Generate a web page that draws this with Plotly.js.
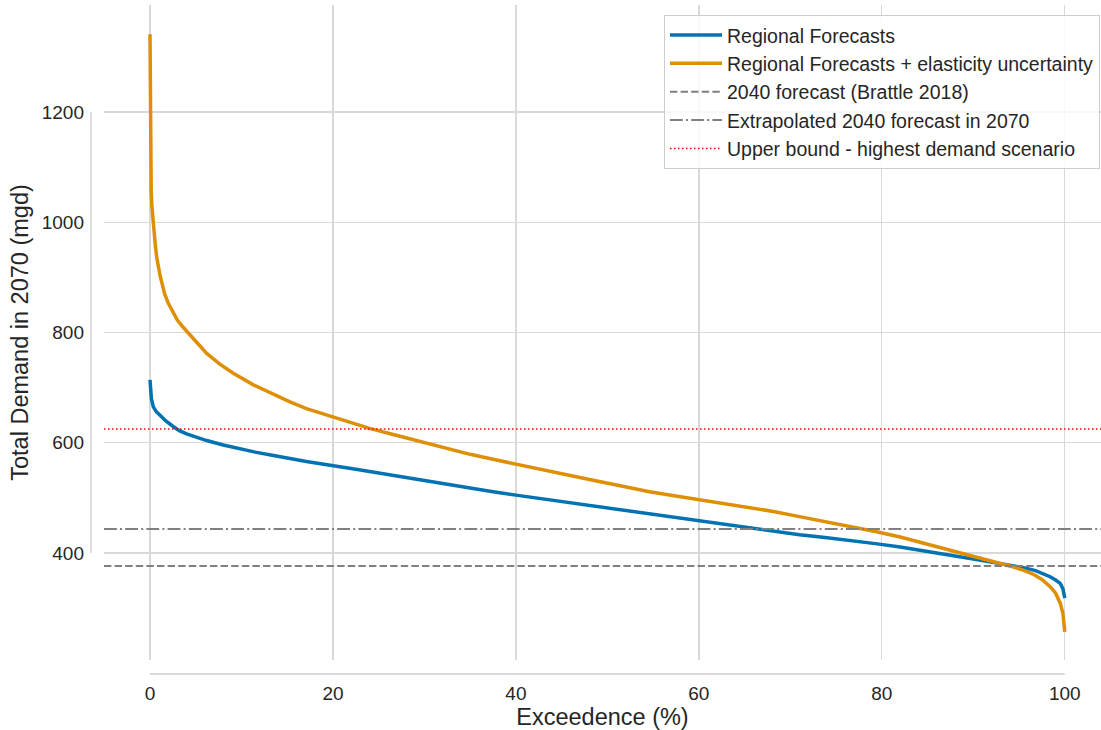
<!DOCTYPE html>
<html>
<head>
<meta charset="utf-8">
<script src="https://cdn.plot.ly/plotly-3.0.1.min.js"></script>
<style>
  html, body { margin: 0; padding: 0; background: #ffffff; }
  #chart { width: 1101px; height: 730px; }
</style>
</head>
<body>
<div id="chart"></div>
<script>
// Exceedence (%) and total demand (mgd)
const regionalX = [0, 0.05, 0.15, 0.36, 0.7, 1.1, 1.7, 2.5, 3.2, 4, 5, 6.2, 8, 9.8, 11.5, 13.5, 15.3, 17.1, 19, 20.8, 22.5, 24, 26.5, 29.5, 32, 35, 37.5, 40, 43, 45.9, 48.5, 51.4, 54.6, 57.3, 60, 62.8, 65.6, 68.3, 71, 73.8, 76.5, 79.3, 82, 84.7, 87.4, 90, 92.9, 94.3, 95.6, 96.8, 97.8, 98.4, 99, 99.5, 99.8, 100];
const regionalY = [714, 695, 680, 665, 656, 650, 640, 630, 622, 616, 610, 604, 596, 589, 583, 577, 571, 566, 561, 557, 552, 548, 541, 533, 526, 518, 511, 505, 498, 491, 485, 478, 471, 465, 459, 452, 445, 439, 433, 428, 423, 417, 411, 404, 396, 389, 381, 377, 373, 368, 362, 357, 351, 345, 335, 318];

const elasticX = [0, 0.005, 0.01, 0.02, 0.03, 0.05, 0.08, 0.13, 0.2, 0.28, 0.36, 0.5, 0.6, 0.75, 0.9, 1.1, 1.3, 1.6, 2.0, 2.5, 3.0, 3.6, 4.2, 5.2, 6.2, 7.6, 9.1, 11.3, 13.5, 15.3, 17.1, 19, 20.8, 22.4, 24, 26.8, 29.5, 32.2, 35, 37.5, 40, 43, 45.9, 48.7, 51.4, 54.6, 57.3, 60, 62.8, 65.6, 68.3, 71, 73.8, 76.5, 79.3, 82, 84.7, 87.4, 90, 92.9, 94.3, 95.6, 96.6, 97.5, 98.4, 99, 99.5, 99.8, 100];
const elasticY = [1341, 1300, 1250, 1190, 1150, 1110, 1080, 1055, 1030, 1013, 998, 970, 955, 935, 919, 903, 890, 870, 853, 836, 822, 810, 799, 780, 762, 743, 726, 705, 687, 674, 662, 652, 642, 634, 626, 614, 602, 590, 579, 570, 561, 551, 541, 531, 522, 511, 504, 497, 490, 483, 475, 466, 457, 448, 439, 429, 417, 405, 394, 382, 375, 368, 361, 352, 339, 327, 309, 290, 257];

// Reference levels (mgd)
const brattle2040 = 376.5;
const extrapolated2070 = 443.5;
const upperBound = 625;

const seriesNames = [
  'Regional Forecasts',
  'Regional Forecasts + elasticity uncertainty',
  '2040 forecast (Brattle 2018)',
  'Extrapolated 2040 forecast in 2070',
  'Upper bound - highest demand scenario'
];

const xRange = [-5.03, 103.96];
const yRange = [205.9, 1394.1];
const xTicks = [0, 20, 40, 60, 80, 100];
const yTicks = [400, 600, 800, 1000, 1200];

const FONT = '"Liberation Sans", Arial, sans-serif';
const TXT = '#262626';
const GRID = '#d9d9d9';

const traces = [
  { x: regionalX, y: regionalY, mode: 'lines', name: seriesNames[0],
    line: { color: '#0173b2', width: 3.5 } },
  { x: elasticX, y: elasticY, mode: 'lines', name: seriesNames[1],
    line: { color: '#de8f05', width: 3.5 } },
  { x: xRange, y: [brattle2040, brattle2040], mode: 'lines', name: seriesNames[2],
    line: { color: '#808080', width: 2, dash: '7.4px,3.2px' } },
  { x: xRange, y: [extrapolated2070, extrapolated2070], mode: 'lines', name: seriesNames[3],
    line: { color: '#808080', width: 2, dash: '12.8px,3.2px,2px,3.2px' } },
  { x: xRange, y: [upperBound, upperBound], mode: 'lines', name: seriesNames[4],
    line: { color: '#ff0000', width: 1.5, dash: '1.5px,2.5px' } }
];

const layout = {
  width: 1101, height: 730,
  margin: { l: 104, r: 0, t: 5, b: 70 },
  paper_bgcolor: '#ffffff', plot_bgcolor: '#ffffff',
  font: { family: FONT, color: TXT, size: 19 },
  showlegend: true,
  legend: {
    x: 0.999, y: 0.985, xanchor: 'right', yanchor: 'top',
    bgcolor: 'rgba(255,255,255,0.8)', bordercolor: '#cccccc', borderwidth: 1,
    font: { family: FONT, size: 19.5, color: TXT },
    itemwidth: 52, traceorder: 'normal'
  },
  xaxis: {
    range: xRange, tickvals: xTicks, ticktext: xTicks.map(String),
    showgrid: true, gridcolor: GRID, gridwidth: 1.3,
    zeroline: false, showline: false, ticks: '',
    ticklabelstandoff: 20,
    tickfont: { family: FONT, size: 19, color: TXT },
    title: { text: 'Exceedence (%)', font: { family: FONT, size: 23.5, color: TXT }, standoff: 3 }
  },
  yaxis: {
    range: yRange, tickvals: yTicks, ticktext: yTicks.map(String),
    showgrid: true, gridcolor: GRID, gridwidth: 1.3,
    zeroline: false, showline: false, ticks: '',
    ticklabelstandoff: 19,
    tickfont: { family: FONT, size: 19, color: TXT },
    title: { text: 'Total Demand in 2070 (mgd)', font: { family: FONT, size: 23.5, color: TXT }, standoff: 6 }
  },
  shapes: [
    // offset, trimmed left spine (from first to last y tick)
    { type: 'line', xref: 'paper', yref: 'y', x0: -0.013, x1: -0.013,
      y0: yTicks[0], y1: yTicks[yTicks.length - 1], line: { color: '#cccccc', width: 1.3 } },
    // offset, trimmed bottom spine (from first to last x tick)
    { type: 'line', xref: 'x', yref: 'paper', x0: xTicks[0], x1: xTicks[xTicks.length - 1],
      y0: -0.0214, y1: -0.0214, line: { color: '#cccccc', width: 1.3 } }
  ]
};

Plotly.newPlot('chart', traces, layout, { displayModeBar: false, staticPlot: true });
</script>
</body>
</html>
